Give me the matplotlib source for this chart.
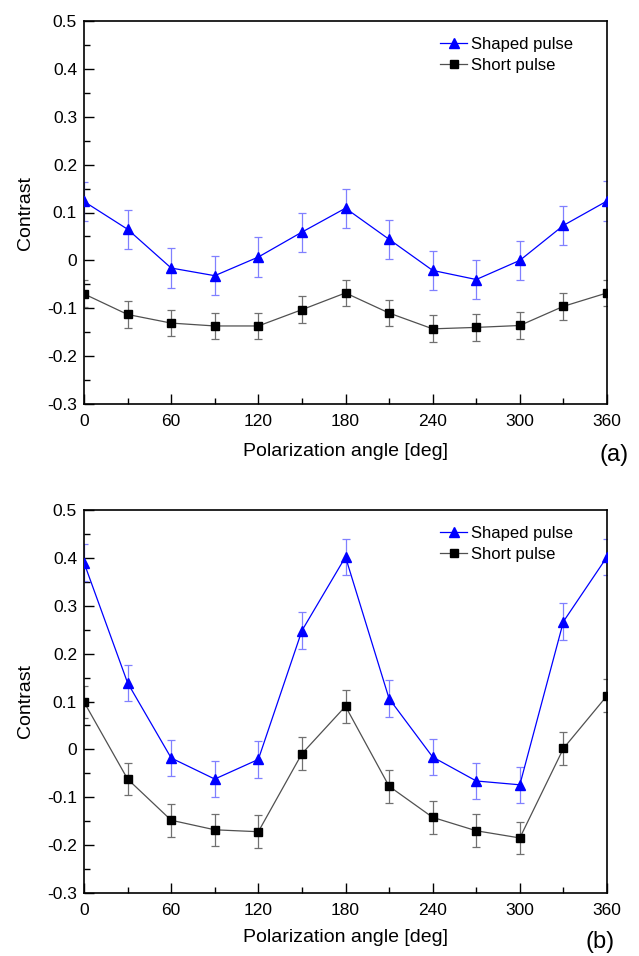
import numpy as np
import matplotlib.pyplot as plt
from matplotlib.ticker import MultipleLocator

plt.rcParams['font.family'] = ['Liberation Sans', 'DejaVu Sans']

# Polarization angles (deg)
angle = [0, 30, 60, 90, 120, 150, 180, 210, 240, 270, 300, 330, 360]

# Panel (a)
shaped_a = [0.123, 0.065, -0.016, -0.032, 0.007, 0.059, 0.109, 0.044, -0.021, -0.040, 0.000, 0.073, 0.124]
shaped_a_err = [0.041, 0.041, 0.041, 0.041, 0.041, 0.041, 0.041, 0.041, 0.041, 0.041, 0.041, 0.041, 0.041]
short_a = [-0.070, -0.113, -0.131, -0.137, -0.137, -0.103, -0.068, -0.110, -0.143, -0.140, -0.136, -0.096, -0.068]
short_a_err = [0.028, 0.028, 0.028, 0.028, 0.028, 0.028, 0.028, 0.028, 0.028, 0.028, 0.028, 0.028, 0.028]

# Panel (b)
shaped_b = [0.390, 0.139, -0.018, -0.062, -0.021, 0.248, 0.402, 0.106, -0.016, -0.066, -0.074, 0.267, 0.402]
shaped_b_err = [0.038, 0.038, 0.038, 0.038, 0.038, 0.038, 0.038, 0.038, 0.038, 0.038, 0.038, 0.038, 0.038]
short_b = [0.099, -0.062, -0.148, -0.168, -0.172, -0.009, 0.090, -0.077, -0.142, -0.170, -0.185, 0.002, 0.112]
short_b_err = [0.034, 0.034, 0.034, 0.034, 0.034, 0.034, 0.034, 0.034, 0.034, 0.034, 0.034, 0.034, 0.034]

fig = plt.figure(figsize=(6.39, 9.56), dpi=100)
W, H = 639, 956
ax_a = fig.add_axes([84 / W, 1 - 404 / H, (607 - 84) / W, (404 - 21) / H])
ax_b = fig.add_axes([84 / W, 1 - 893 / H, (607 - 84) / W, (893 - 510) / H])


def draw(ax, shaped, shaped_err, short, short_err, tag, tag_x, tag_y, xlab_y):
    # error bars
    ax.errorbar(angle, shaped, yerr=shaped_err, fmt='none', ecolor='#8080ff',
                elinewidth=0.9, capsize=3, capthick=0.9, zorder=2)
    ax.errorbar(angle, short, yerr=short_err, fmt='none', ecolor='#707070',
                elinewidth=0.9, capsize=3, capthick=0.9, zorder=2)
    # lines + markers
    ax.plot(angle, shaped, color='#0000ff', lw=0.9, marker='^', ms=7.5,
            label='Shaped pulse', zorder=3)
    ax.plot(angle, short, color='#505050', lw=0.9, marker='s', ms=6,
            mfc='black', mec='black', label='Short pulse', zorder=3)
    ax.set_xlim(0, 360)
    ax.set_ylim(-0.3, 0.5)
    ax.set_xticks(range(0, 361, 60))
    ax.xaxis.set_minor_locator(MultipleLocator(30))
    ax.set_yticks(np.arange(-0.3, 0.51, 0.1))
    ax.set_yticklabels(['-0.3', '-0.2', '-0.1', '0', '0.1', '0.2', '0.3', '0.4', '0.5'])
    ax.yaxis.set_minor_locator(MultipleLocator(0.05))
    ax.tick_params(which='both', direction='in', top=False, right=False, labelsize=12.5, width=1)
    ax.tick_params(which='major', length=7)
    ax.tick_params(axis='x', which='major', pad=7)
    ax.tick_params(axis='y', which='major', pad=5)
    ax.tick_params(which='minor', length=4)
    for s in ax.spines.values():
        s.set_linewidth(1.2)
    ax.set_xlabel('Polarization angle [deg]', fontsize=14, va='center')
    ax.xaxis.set_label_coords(0.5, xlab_y)
    ax.set_ylabel('Contrast', fontsize=14, va='center')
    ax.yaxis.set_label_coords(-0.112, 0.5)
    ax.legend(loc='upper left', frameon=False, fontsize=12, handlelength=1.62,
              handletextpad=0.24, labelspacing=0.37, borderpad=0, borderaxespad=0,
              bbox_to_anchor=(0.681, 0.958))
    ax.text(tag_x, tag_y, tag, transform=ax.transAxes, fontsize=17, ha='center', va='center')


draw(ax_a, shaped_a, shaped_a_err, short_a, short_a_err, '(a)',
     (614 - 84) / 523, -(455 - 404) / 383, -(452 - 404) / 383)
draw(ax_b, shaped_b, shaped_b_err, short_b, short_b_err, '(b)',
     (600 - 84) / 523, -(942 - 893) / 383, -(938 - 893) / 383)

fig.savefig('out.png', dpi=100)
